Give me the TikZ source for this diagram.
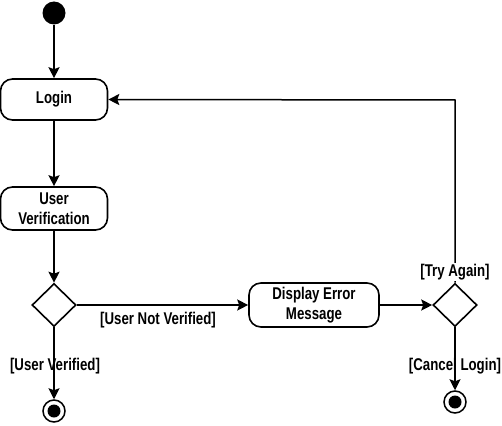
\documentclass[tikz,border=0pt]{standalone}
\usepackage{fontspec}
\setmainfont{Liberation Sans}[FakeStretch=0.78]
\usetikzlibrary{arrows.meta,shapes.geometric}
\begin{document}
\begin{tikzpicture}[x=1pt,y=-1pt,
  every node/.style={font=\fontsize{17}{20}\selectfont\bfseries},
  act/.style={draw,line width=1.6pt,rounded corners=12pt,align=center,inner sep=0pt},
  dec/.style={draw,line width=1.6pt,diamond,minimum width=44pt,minimum height=43pt,inner sep=0pt},
  startn/.style={circle,fill=black,minimum size=23pt,inner sep=0pt},
  endn/.style={circle,draw,line width=1.5pt,minimum size=22pt,inner sep=0pt,
    path picture={\fill (path picture bounding box.center) circle (6.5pt);}},
  flow/.style={line width=1.5pt,-{Stealth[length=11pt,width=11pt,inset=2pt]}},
  lbl/.style={inner sep=1pt}
]
\useasboundingbox (0,0) rectangle (502,425);
\node[startn] (s) at (54,13) {};
\node[act,minimum width=107pt,minimum height=41pt] (login) at (54,99.5) {Login};
\node[act,minimum width=107pt,minimum height=43pt] (ver) at (54,208.5) {User\\Verification};
\node[dec] (d1) at (54,305) {};
\node[endn] (e1) at (54,411) {};
\node[act,minimum width=130pt,minimum height=44pt] (err) at (314,305) {Display Error\\Message};
\node[dec] (d2) at (455,305) {};
\node[endn] (e2) at (455,402) {};
\coordinate (c) at (455,100);

\draw[flow] (s) -- (login);
\draw[flow] (login) -- (ver);
\draw[flow] (ver) -- (d1);
\draw[flow] (d1) -- (e1);
\draw[flow] (d1) -- (err);
\draw[flow] (err) -- (d2);
\draw[flow] (d2) -- (e2);
\draw[flow] (d2.north) -- (c) -- (login.east);

\node[lbl] at (55,366) {[User Verified]};
\node[lbl] at (158,320) {[User Not Verified]};
\node[lbl,fill=white] at (455,272) {[Try Again]};
\node[lbl] at (455,366) {[Cancel Login]};
\end{tikzpicture}
\end{document}
